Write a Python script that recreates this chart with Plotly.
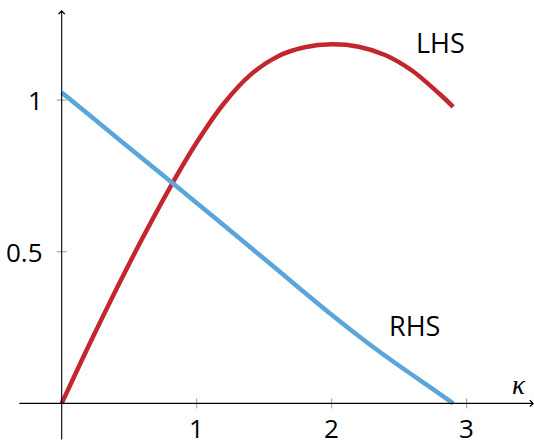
import plotly.graph_objects as go

# Curve samples: kappa vs. left-hand side and right-hand side
kappa_lhs = [0.0, 0.2, 0.4, 0.6, 0.8, 1.0, 1.2, 1.4, 1.6, 1.8, 2.0, 2.2, 2.4, 2.6, 2.8, 2.9]
lhs = [0.0, 0.19, 0.372, 0.546, 0.71, 0.86, 0.988, 1.084, 1.144, 1.174, 1.184,
       1.176, 1.148, 1.096, 1.02, 0.978]

kappa_rhs = [0.0, 0.25, 0.5, 0.75, 1.0, 1.25, 1.5, 1.75, 2.0, 2.25, 2.5, 2.75, 2.9]
rhs = [1.025, 0.934, 0.843, 0.752, 0.661, 0.569, 0.477, 0.384, 0.292, 0.205, 0.124, 0.047, 0.0]

x_ticks = [1, 2, 3]
x_tick_labels = ["1", "2", "3"]
y_ticks = [0.5, 1]
y_tick_labels = ["0.5", "1"]

RED = "#c1272d"
BLUE = "#5aa5da"
FONT = "Open Sans"

x_range = [-0.457, 3.499]
y_range = [-0.124, 1.330]

fig = go.Figure()
fig.add_trace(go.Scatter(x=kappa_lhs, y=lhs, mode="lines",
                         line=dict(color=RED, width=4.5, shape="spline", smoothing=0.8),
                         hoverinfo="skip", showlegend=False))
fig.add_trace(go.Scatter(x=kappa_rhs, y=rhs, mode="lines",
                         line=dict(color=BLUE, width=4.5, shape="spline", smoothing=0.8),
                         hoverinfo="skip", showlegend=False))

annotations = []
# Axis lines with arrow tips
annotations.append(dict(x=x_range[1], y=0, ax=-0.325, ay=0, xref="x", yref="y",
                        axref="x", ayref="y", showarrow=True, arrowhead=4,
                        arrowsize=1.1, arrowwidth=1.1, arrowcolor="black",
                        text="", standoff=0))
annotations.append(dict(x=0, y=1.297, ax=0, ay=y_range[0], xref="x", yref="y",
                        axref="x", ayref="y", showarrow=True, arrowhead=4,
                        arrowsize=1.1, arrowwidth=1.1, arrowcolor="black",
                        text="", standoff=0))

shapes = []
for t, lab in zip(x_ticks, x_tick_labels):
    shapes.append(dict(type="line", xref="x", yref="y", ysizemode="pixel",
                       yanchor=0, x0=t, x1=t, y0=-5, y1=5,
                       line=dict(color="#9a9a9a", width=1)))
    annotations.append(dict(x=t, y=0, xref="x", yref="y", text=lab,
                            showarrow=False, yshift=-25,
                            font=dict(family=FONT, size=26, color="black")))
for t, lab in zip(y_ticks, y_tick_labels):
    shapes.append(dict(type="line", xref="x", yref="y", xsizemode="pixel",
                       xanchor=0, x0=-5, x1=5, y0=t, y1=t,
                       line=dict(color="#9a9a9a", width=1)))
    annotations.append(dict(x=0, y=t, xref="x", yref="y", text=lab,
                            showarrow=False, xanchor="right", xshift=-17,
                            font=dict(family=FONT, size=26, color="black")))

# Curve labels and axis label
annotations.append(dict(x=2.805, y=1.19, xref="x", yref="y", text="LHS",
                        showarrow=False, font=dict(family=FONT, size=27, color="black")))
annotations.append(dict(x=2.617, y=0.258, xref="x", yref="y", text="RHS",
                        showarrow=False, font=dict(family=FONT, size=27, color="black")))
annotations.append(dict(x=3.387, y=0.062, xref="x", yref="y", text="<i>κ</i>",
                        showarrow=False, font=dict(family="Liberation Serif", size=27, color="black")))

fig.update_layout(
    width=534, height=441, autosize=False,
    margin=dict(l=0, r=0, t=0, b=0),
    paper_bgcolor="white", plot_bgcolor="white",
    xaxis=dict(range=x_range, visible=False, fixedrange=True),
    yaxis=dict(range=y_range, visible=False, fixedrange=True),
    shapes=shapes, annotations=annotations,
)

fig.write_html("out.html")
